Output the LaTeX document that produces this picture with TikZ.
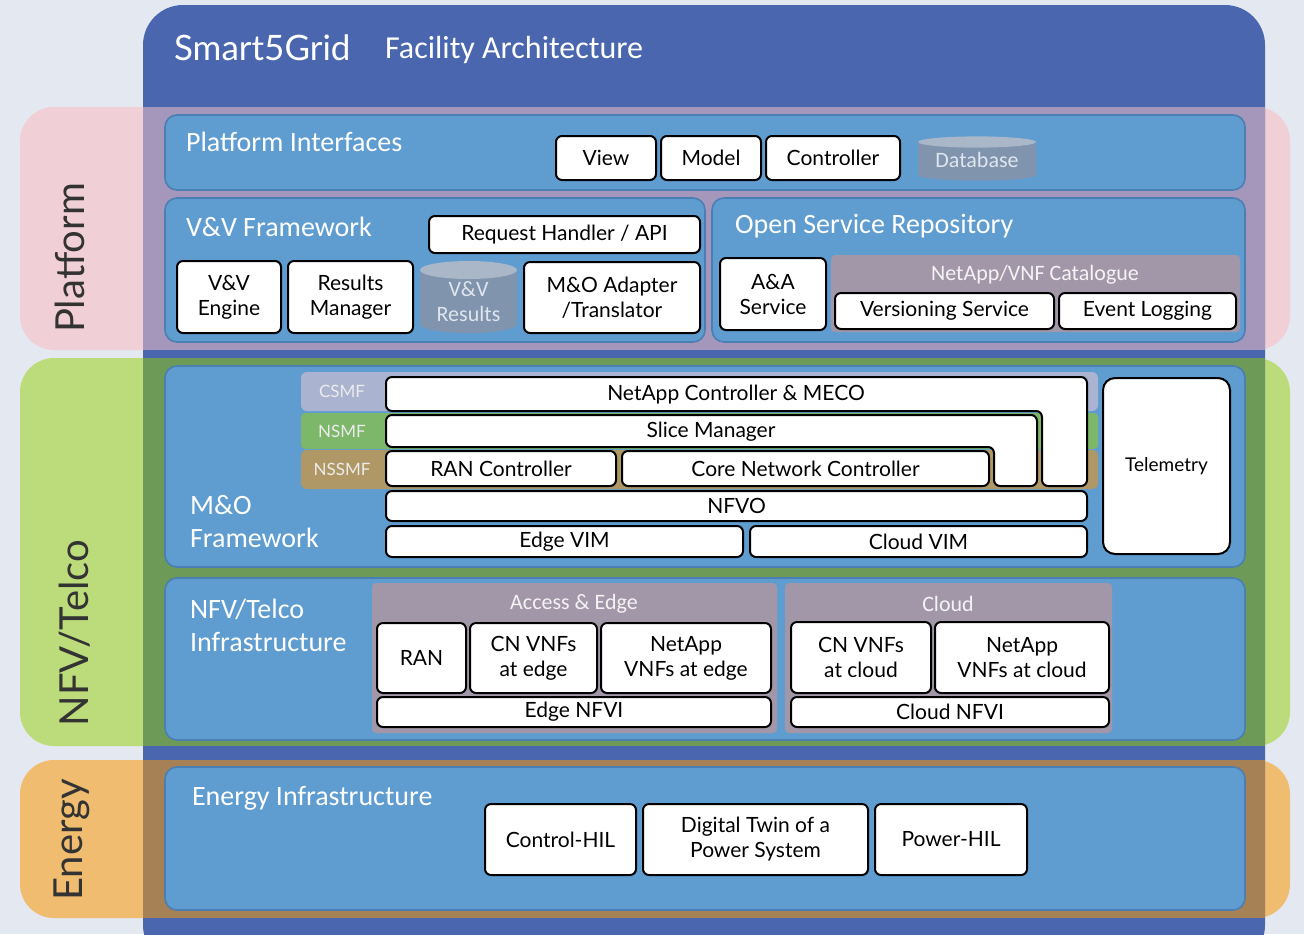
\documentclass[tikz,border=0pt]{standalone}
\usepackage{fontspec}
\setmainfont{Lato}
\newfontfamily\headfont{Carlito}
\usetikzlibrary{fit}

\definecolor{bgc}{HTML}{E4E8F0}
\definecolor{panelblue}{HTML}{4A66AE}
\definecolor{pinkL}{HTML}{F0D0D6}
\definecolor{pinkD}{HTML}{A597BB}
\definecolor{greenL}{HTML}{BCDC7C}
\definecolor{greenD}{HTML}{6D9A56}
\definecolor{orangeL}{HTML}{F0BC70}
\definecolor{orangeD}{HTML}{A68156}
\definecolor{boxblue}{HTML}{5F9DD1}
\definecolor{boxline}{HTML}{4B7FB3}
\definecolor{mauve}{HTML}{A297A8}
\definecolor{csmf}{HTML}{AAB3D0}
\definecolor{nsmf}{HTML}{7CB76A}
\definecolor{nssmf}{HTML}{B09866}
\definecolor{dbbody}{HTML}{8194AE}
\definecolor{dbtop}{HTML}{A9B7C9}
\definecolor{dbtext}{HTML}{DFE5EE}
\definecolor{sidetext}{HTML}{333333}

\tikzset{
  box/.style={draw=black, line width=1pt, fill=white, rounded corners=3pt,
    inner sep=0pt, align=center, font=\fontsize{10.5}{12.5}\selectfont},
  lshape/.style={draw=black, line width=1pt, fill=white, rounded corners=3pt},
  layer/.style={fill=boxblue, draw=boxline, line width=0.8pt,
    rounded corners=6pt, inner sep=0pt},
  group/.style={fill=mauve, rounded corners=2pt, inner sep=0pt},
  head/.style={text=white, anchor=west, align=left,
    font=\headfont\fontsize{14}{16.5}\selectfont},
  grouplabel/.style={text=white!88!mauve, font=\headfont\fontsize{11}{12}\selectfont},
  tablabel/.style={text=white!85!gray, font=\fontsize{8.5}{10}\selectfont},
  side/.style={rotate=90, text=sidetext, font=\fontsize{20}{21}\selectfont},
  dblabel/.style={text=dbtext, align=center, font=\headfont\fontsize{11}{12.5}\selectfont}
}

% white box between two pixel corners: [opts]{name}{x1}{y1}{x2}{y2}{text}
\newcommand{\pbox}[7][]{%
  \node[box, #1, minimum width={(#5-#3)*0.5pt}, minimum height={(#6-#4)*0.5pt}]
    (#2) at ({(#3+#5)/2},{(#4+#6)/2}) {#7};}

\begin{document}
\begin{tikzpicture}[x=0.5pt,y=-0.5pt]
  \useasboundingbox (0,0) rectangle (1304,934);
  \clip (0,0) rectangle (1304,934);
  \fill[bgc] (0,0) rectangle (1304,934);

  % Side bands
  \fill[pinkL, rounded corners=17pt] (20,107) rectangle (1290,350);
  \fill[greenL, rounded corners=17pt] (20,358) rectangle (1290,746);
  \fill[orangeL, rounded corners=17pt] (20,760) rectangle (1290,918);

  % Main panel
  \fill[panelblue, rounded corners=20pt] (143,5) rectangle (1265,965);
  \begin{scope}
    \clip[rounded corners=20pt] (143,5) rectangle (1265,965);
    \fill[pinkD] (143,107) rectangle (1265,350);
    \fill[greenD] (143,358) rectangle (1265,746);
    \fill[orangeD] (143,760) rectangle (1265,918);
  \end{scope}

  % Title
  \node[anchor=west, text=white, font=\fontsize{17.5}{20}\selectfont] (brand) at (167,48) {Smart5Grid};
  \node[anchor=west, text=white, font=\headfont\fontsize{16}{18}\selectfont] (title) at (378,50) {Facility Architecture};

  % Side labels
  \node[side] (platform) at (70,258) {Platform};
  \node[side] (nfvtelco) at (75,633) {NFV/Telco};
  \node[side] (energy) at (72,840) {Energy};

  % Platform Interfaces
  \node[layer, fit={(165,115) (1245,190)}] (pif) {};
  \node[head] (pifhead) at (179,142) {Platform Interfaces};
  \pbox{view}{556}{136}{656}{180}{View}
  \pbox{model}{661}{136}{761}{180}{Model}
  \pbox{ctrl}{766}{136}{900}{180}{Controller}
  \fill[dbbody] (918,142) rectangle (1036,175);
  \fill[dbbody] (977,175) ellipse [x radius=29.5pt, y radius=2.8pt];
  \fill[dbtop] (977,142) ellipse [x radius=29.5pt, y radius=2.8pt];
  \node[dblabel] (db) at (977,160) {Database};

  % V&V Framework
  \node[layer, fit={(165,198) (705,342)}] (vv) {};
  \node[head] (vvhead) at (179,227) {V\&V Framework};
  \pbox{reqh}{429}{216}{700}{253}{Request Handler / API}
  \pbox{vveng}{177}{261}{281}{333}{V\&V\\Engine}
  \pbox{resmgr}{288}{261}{413}{333}{Results\\Manager}
  \fill[dbbody] (420,270) rectangle (517,324);
  \fill[dbbody] (468.5,324) ellipse [x radius=24.25pt, y radius=4.5pt];
  \fill[dbtop] (468.5,270) ellipse [x radius=24.25pt, y radius=4.5pt];
  \node[dblabel] (vvres) at (468.5,302) {V\&V\\Results};
  \pbox{adapter}{524}{262}{700}{333}{M\&O Adapter\\/Translator}

  % Open Service Repository
  \node[layer, fit={(712,198) (1245,342)}] (osr) {};
  \node[head] (osrhead) at (728,226) {Open Service Repository};
  \pbox{aaa}{720}{258}{826}{330}{A\&A\\Service}
  \node[group, fit={(831,255) (1240,332)}] (catalogue) {};
  \node[grouplabel] (catlabel) at (1035,275) {NetApp/VNF Catalogue};
  \pbox{versioning}{835}{293}{1054}{329}{Versioning Service}
  \pbox{evlog}{1059}{293}{1236}{329}{Event Logging}

  % M&O Framework
  \node[layer, fit={(165,366) (1245,567)}] (mo) {};
  \node[head] (mohead) at (183,522) {M\&O\\Framework};
  \fill[csmf, rounded corners=3pt] (301,372) rectangle (1098,411);
  \fill[nsmf, rounded corners=2pt] (301,413) rectangle (1098,449);
  \fill[nssmf, rounded corners=3pt] (301,450) rectangle (1098,489);
  \node[tablabel] (csmflab) at (342,391) {CSMF};
  \node[tablabel] (nsmflab) at (342,431) {NSMF};
  \node[tablabel] (nssmflab) at (342,469) {NSSMF};
  \draw[lshape] (386,377) -- (1087,377) -- (1087,486) -- (1042,486) -- (1042,411) -- (386,411) -- cycle;
  \node[font=\fontsize{10.5}{12.5}\selectfont] (meco) at (736,395) {NetApp Controller \& MECO};
  \draw[lshape] (386,415) -- (1037,415) -- (1037,486) -- (994,486) -- (994,447) -- (386,447) -- cycle;
  \node[font=\fontsize{10.5}{12.5}\selectfont] (slice) at (711,432) {Slice Manager};
  \pbox{ranctrl}{386}{451}{616}{486}{RAN Controller}
  \pbox{cnctrl}{622}{451}{989}{486}{Core Network Controller}
  \pbox{nfvo}{386}{491}{1087}{521}{NFVO}
  \pbox{edgevim}{386}{526}{743}{557}{Edge VIM}
  \pbox{cloudvim}{750}{526}{1087}{557}{Cloud VIM}
  \pbox[rounded corners=6pt, font=\fontsize{9.5}{11}\selectfont]{telemetry}{1103}{378}{1230}{554}{Telemetry}

  % NFV/Telco Infrastructure
  \node[layer, fit={(165,578) (1245,740)}] (nfvi) {};
  \node[head] (nfvihead) at (183,625) {NFV/Telco\\Infrastructure};
  \node[group, fit={(372,583) (777,733)}] (accedge) {};
  \node[grouplabel] (acclabel) at (574,604) {Access \& Edge};
  \pbox{ran}{377}{623}{466}{693}{RAN}
  \pbox{cnedge}{470}{623}{597}{693}{CN VNFs\\at edge}
  \pbox{naedge}{601}{623}{771}{693}{NetApp\\VNFs at edge}
  \pbox{edgenfvi}{377}{697}{771}{727}{Edge NFVI}
  \node[group, fit={(785,583) (1112,733)}] (cloud) {};
  \node[grouplabel] (cloudlabel) at (948,604) {Cloud};
  \pbox{cncloud}{791}{622}{931}{693}{CN VNFs\\at cloud}
  \pbox{nacloud}{935}{622}{1109}{693}{NetApp\\VNFs at cloud}
  \pbox{cloudnfvi}{791}{697}{1109}{727}{Cloud NFVI}

  % Energy Infrastructure
  \node[layer, fit={(165,767) (1245,910)}] (eninf) {};
  \node[head] (enhead) at (185,798) {Energy Infrastructure};
  \pbox{chil}{485}{804}{636}{875}{Control-HIL}
  \pbox{twin}{643}{804}{868}{875}{Digital Twin of a\\Power System}
  \pbox{phil}{875}{804}{1027}{875}{Power-HIL}
\end{tikzpicture}
\end{document}
